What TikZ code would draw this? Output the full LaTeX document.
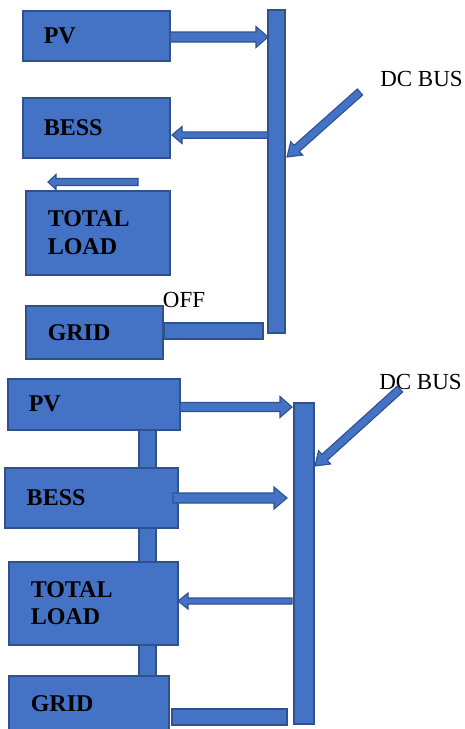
\documentclass[tikz,border=0pt]{standalone}
\usepackage{fontspec}
\setmainfont{Liberation Serif}
\usetikzlibrary{calc}
\definecolor{unitblue}{HTML}{4472C4}
\definecolor{unitedge}{HTML}{2F528F}
\tikzset{
  unit/.style={draw=unitedge, fill=unitblue, line width=1.5pt, anchor=north west,
    font=\fontsize{24}{27.7}\selectfont\bfseries, align=left, inner ysep=0pt},
  bar/.style={draw=unitedge, fill=unitblue, line width=1.5pt, anchor=north west, inner sep=0pt},
  busnote/.style={font=\fontsize{23}{27}\selectfont, inner sep=0pt},
  flow/.style={draw=unitedge, fill=unitblue, line width=1.1pt, line join=miter},
}
% block arrow: from, to, shaft half, head half, head length
\newcommand\fatarrow[5]{%
  \filldraw[flow] ($(#1)!#3!90:(#2)$) -- ($(#2)!#5!(#1)!#3!-90:(#1)$)
    -- ($(#2)!#5!(#1)!#4!-90:(#1)$) -- (#2) -- ($(#2)!#5!(#1)!#4!90:(#1)$)
    -- ($(#2)!#5!(#1)!#3!90:(#1)$) -- ($(#1)!#3!-90:(#2)$) -- cycle;}
\begin{document}
\begin{tikzpicture}[x=1pt, y=-1pt]
\useasboundingbox (0,0) rectangle (465,729);
% Grid off
\node[unit, inner xsep=21pt, text width=105pt, minimum height=50pt] (pv1) at (22,10) {PV};
\node[unit, inner xsep=21pt, text width=105pt, minimum height=60pt] (bess1) at (22,97) {BESS};
\node[unit, inner xsep=22pt, text width=100pt, minimum height=84pt] (load1) at (25,190) {TOTAL\\LOAD};
\node[unit, inner xsep=22pt, text width=93pt, minimum height=53pt] (grid1) at (25,305) {GRID};
\node[bar, minimum width=17pt, minimum height=323pt] (bus1) at (267,9) {};
\node[bar, minimum width=99pt, minimum height=16pt] (link1) at (163,322) {};
\node[busnote] (off) at (184,299.5) {OFF};
\node[busnote] (dc1) at (421.5,78.5) {DC BUS};
\coordinate (pvout1) at (170,37);   \coordinate (pvin1) at (268,37);
\coordinate (bessin1) at (268,135); \coordinate (bessout1) at (172,135);
\coordinate (loadin1) at (138,182); \coordinate (loadout1) at (48,182);
\coordinate (dcfrom1) at (360,92);  \coordinate (dcto1) at (287,157);
\fatarrow{pvout1}{pvin1}{5pt}{10.5pt}{12pt}
\fatarrow{bessin1}{bessout1}{3.2pt}{8.5pt}{10pt}
\fatarrow{loadin1}{loadout1}{3.5pt}{7.5pt}{8pt}
\fatarrow{dcfrom1}{dcto1}{4pt}{9pt}{13pt}
% Grid on
\node[bar, minimum width=17pt, minimum height=297pt] (spine2) at (138,378) {};
\node[unit, inner xsep=21pt, text width=130pt, minimum height=51pt] (pv2) at (7,378) {PV};
\node[unit, inner xsep=22pt, text width=129pt, minimum height=60pt] (bess2) at (4,467) {BESS};
\node[unit, inner xsep=22pt, text width=125pt, minimum height=83pt] (load2) at (8,561) {TOTAL\\LOAD};
\node[unit, inner xsep=22pt, text width=116pt, minimum height=55pt] (grid2) at (8,675) {GRID};
\node[bar, minimum width=20pt, minimum height=321pt] (bus2) at (293,402) {};
\node[bar, minimum width=115pt, minimum height=16pt] (link2) at (171,708) {};
\node[busnote] (dc2) at (420.5,381.5) {DC BUS};
\coordinate (pvout2) at (180,407);   \coordinate (pvin2) at (292,407);
\coordinate (bessout2) at (173,498); \coordinate (bessin2) at (287,498);
\coordinate (loadin2) at (292,601);  \coordinate (loadout2) at (178,601);
\coordinate (dcfrom2) at (400,389);  \coordinate (dcto2) at (315,466);
\fatarrow{pvout2}{pvin2}{4.5pt}{10.5pt}{12pt}
\fatarrow{bessout2}{bessin2}{5pt}{11pt}{13pt}
\fatarrow{loadin2}{loadout2}{3pt}{8pt}{10pt}
\fatarrow{dcfrom2}{dcto2}{4pt}{9pt}{13pt}
\end{tikzpicture}
\end{document}
